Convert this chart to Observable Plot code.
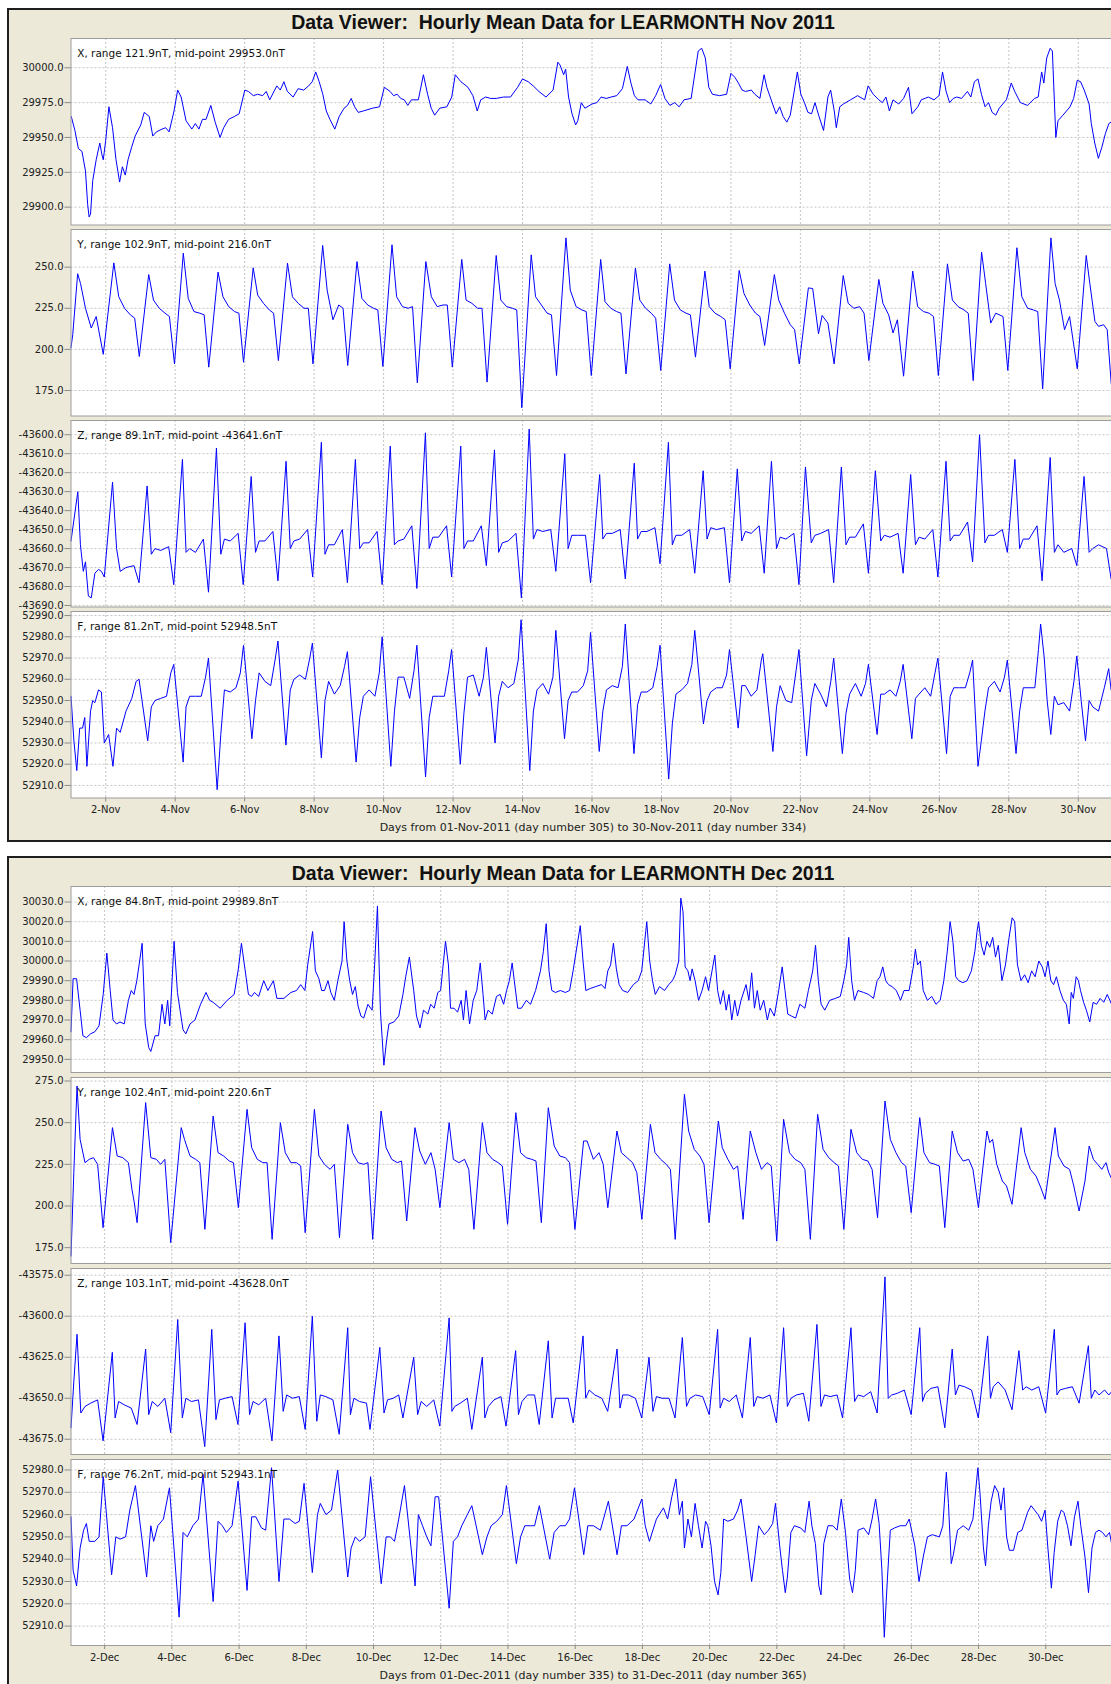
<!DOCTYPE html>
<html><head><meta charset="utf-8">
<script src="https://cdn.jsdelivr.net/npm/d3@7"></script>
<script src="https://cdn.jsdelivr.net/npm/@observablehq/plot@0.6"></script>
<style>
html,body{margin:0;padding:0;background:#fff;}
#page{position:relative;width:1111px;height:1684px;overflow:hidden;background:#fff;font-family:"DejaVu Sans",sans-serif;}
.panel{position:absolute;left:6.5px;width:1130px;background:#ECE9D8;border:2px solid #1e1e1e;box-sizing:border-box;}
.title{position:absolute;left:0;width:1126px;text-align:center;font:bold 19.5px/20px "Liberation Sans",Arial,sans-serif;white-space:pre;color:#111;}
.caption{position:absolute;left:70.5px;width:1045px;text-align:center;font:11px/13px "DejaVu Sans",sans-serif;color:#222;white-space:pre;}
.sub{position:absolute;left:0;}
</style></head>
<body><div id="page"></div>
<script>
// ---------- tick labels ----------
const novDays = ["2-Nov","4-Nov","6-Nov","8-Nov","10-Nov","12-Nov","14-Nov","16-Nov","18-Nov","20-Nov","22-Nov","24-Nov","26-Nov","28-Nov","30-Nov"];
const decDays = ["2-Dec","4-Dec","6-Dec","8-Dec","10-Dec","12-Dec","14-Dec","16-Dec","18-Dec","20-Dec","22-Dec","24-Dec","26-Dec","28-Dec","30-Dec"];
const novXTicks = [29900,29925,29950,29975,30000];
const novYTicks = [175,200,225,250];
const novZTicks = [-43690,-43680,-43670,-43660,-43650,-43640,-43630,-43620,-43610,-43600];
const novFTicks = [52910,52920,52930,52940,52950,52960,52970,52980,52990];
const decXTicks = [29950,29960,29970,29980,29990,30000,30010,30020,30030];
const decYTicks = [175,200,225,250,275];
const decZTicks = [-43675,-43650,-43625,-43600,-43575];
const decFTicks = [52910,52920,52930,52940,52950,52960,52970,52980];
const novLabels = ["X, range 121.9nT, mid-point 29953.0nT","Y, range 102.9nT, mid-point 216.0nT","Z, range 89.1nT, mid-point -43641.6nT","F, range 81.2nT, mid-point 52948.5nT"];
const decLabels = ["X, range 84.8nT, mid-point 29989.8nT","Y, range 102.4nT, mid-point 220.6nT","Z, range 103.1nT, mid-point -43628.0nT","F, range 76.2nT, mid-point 52943.1nT"];

// ---------- series: one list per day, pairs of [hour of day, value nT] ----------
const novX = [
[0.2,29965,2.7,29955,5.1,29942,7.6,29940,10,29926,11.5,29902,12.5,29893,13.5,29895,15,29919,17.4,29934,19.9,29946,21.3,29938,22.3,29934],
[0,29948,2.2,29972,4.7,29957,7.1,29934,9.6,29918,11.5,29929,13.5,29923,15.4,29934,17.9,29943,20.3,29951],
[0.2,29959,2.6,29968,6.1,29965,8.5,29951,11,29954,14.9,29956,17.4,29957,19.8,29954,23.2,29969],
[1.7,29984,4.1,29979,7.5,29962,11.5,29956,13.9,29960,16.4,29956,18.8,29963,21.3,29963],
[0.6,29973,3.6,29961,7,29950,9.5,29957,12.9,29963,16.8,29965,20.2,29967],
[0.1,29984,2.6,29983,6,29980,9,29981,12.4,29980,14.9,29983,17.3,29977,22.2,29987],
[0.6,29984,3.1,29990,5.5,29983,9.5,29979,12.9,29985,16.8,29984,20.2,29987,22.7,29990],
[1.1,29997,3.5,29990,6,29981,8.4,29969,10.9,29963,14.3,29956,17.3,29965,20.7,29971,23.1,29973],
[1.6,29978,4,29972,6.5,29968,9.9,29969,16.3,29971,21.2,29972],
[0.5,29986,4.5,29983,6.9,29980,9.4,29981,11.8,29978,14.3,29977,16.7,29973,19.2,29977],
[0,29977,3.5,29995,6.4,29981,8.9,29971,11.3,29966,14.8,29971,19.7,29972,23.1,29979],
[1.5,29995,5.4,29990,10.3,29986,13.7,29980,16.7,29969,19.1,29977,22.5,29979],
[2,29978,5.9,29978,10.8,29979,15.7,29979,20.6,29986],
[0,29992,3.9,29990,7.4,29987,11.3,29983,16.2,29979,21.1,29984],
[0.4,30004,1.9,30002,4.4,29995,5.8,29999,7.8,29979,10.2,29967,12.7,29959,14.2,29962,16.6,29975,19.1,29971],
[0,29974,3.4,29975,6.3,29979,9.8,29978,13.2,29979,17.1,29980,21,29985],
[0.4,30001,2.9,29989,5.3,29980,7.8,29977,12.7,29977,16.6,29974,20,29980,23.4,29988],
[2.4,29978,5.8,29973,9.2,29975,12.2,29972,15.6,29977,20.5,29978],
[1.4,30012,3.8,30014,6.3,30007,8.7,29986,11.2,29981,16.1,29980,21,29981],
[0,29996,2.8,29993,5.2,29989,7.7,29984,10.1,29983,14.1,29984,16.5,29981,20,29978,22.9,29995],
[0.8,29986,4.8,29974,7.2,29967,9.7,29972,12.1,29965,14.6,29961,17,29966,21.9,29997],
[0.3,29981,2.8,29975,5.2,29968,7.7,29967,10.1,29975,12.6,29966,16,29955,19,29979,20.9,29984,23.4,29969],
[0.8,29957,3.2,29972,5.7,29974,10.6,29977,15.5,29980,20.4,29977,22.8,29987],
[2.3,29981,6.2,29977,8.6,29975,11.1,29979,13.5,29969,16,29977,19.9,29974,23.3,29978],
[2.7,29986,5.1,29967,9.1,29972,11.5,29977,16.4,29979,20.3,29977,23.8,29980],
[2.2,29997,4.7,29983,7.1,29975,9.6,29978,12,29979,15.4,29978,19.4,29983,21.8,29979],
[0.2,29990,2.7,29992,5.1,29981,7.6,29972,10,29975,12.5,29968,15,29966,17.4,29971,22.3,29977],
[1.7,29989,4.1,29983,8,29975,12.9,29973,17.8,29978,20.3,29979,22.7,29997],
[0.2,29989,2.2,30007,4.6,30014,6.1,30012,8.5,29950,10,29962,13.4,29966,15.9,29969,18.3,29972,20.8,29978,23.3,29991],
[1.6,29990,4.1,29984,7.5,29974,9,29960,11.4,29946,13.9,29935,16.3,29943,18.8,29953,21.2,29960,22.7,29961]
];
const novY = [
[0,201,1.2,209,4.6,246,6.6,240,10,225,14,213,17.4,220,22.3,197],
[5.6,252.6,9,232,13,225,17,221,20,219,23.2,195.7],
[5.7,245.5,9,230,13,225,17,222,20,220,23.5,191.2],
[5.6,258.5,9,231,13,223,17,222,20,221,23.2,189.2],
[5.6,247,9,232,13,226,17,223,20,222,23.2,192.2],
[5.9,249.6,9,233,13,228,17,224,20,222,23.3,193.2],
[5.6,252.4,9,232,13,228,17,225,20,225,23.2,191.2],
[5.9,263.2,9,236,13,218,17,227,20,225,23.2,190.2],
[5.6,253.4,9,231,13,227,17,225,20,224,23.5,189.6],
[5.8,263.6,9,232,13,226,17,225,20,226,23.3,179.7],
[5.2,253.4,9,232,13,226,17,227,20,227,23.5,189.2],
[6,254.7,9,230,13,228,17,225,20,225,23.5,180.1],
[5.8,257.1,9,230,13,226,17,225,20,224,23.5,164.5],
[6,257.5,9,232,13,227,17,222,20,221,23.5,184.1],
[6,267.8,9,236,13,226,17,224,20,223,23.5,184.1],
[6,254.7,9,229,13,225,17,223,20,222,23.5,185.1],
[6,249.4,9,230,13,225,17,222,20,219,23.5,187.2],
[5.7,252,9,230,13,224,17,222,20,221,23.5,195.3],
[6,247.6,9,226,13,222,17,220,20,218,23.5,188.2],
[5.7,248,9,234,13,227,17,222,20,220,23.3,202.4],
[6,245.5,9,230,13,222,17,215,20,212,23.2,191.2],
[5.5,237.4,8.5,237,12.5,209.5,15,220.6,19,216,23.3,191.2],
[5.6,244.9,9,228,13,225,17,226,20,222,23.3,193.2],
[6.2,242.5,9,228,13,221,16,210,19,218,23.3,183.7],
[5.6,247.6,9,226,13,223,17,222,20,220,23.3,184.1],
[5.6,252,9,230,13,226,17,224,20,222,23.4,181],
[5.2,259.1,8,240,11.5,216,15,222,20,220,23.3,187.2],
[5.6,261.8,9,232,13,225,17,224,20,223,23.4,176],
[5.1,267.8,8,240,11,230,14.5,212,18,220,23.3,188.2],
[5.5,257.1,8,240,11.5,217,14,214,17.5,215,20,212,22.8,179]
];
const novZ = [
[0,-43656,2,-43645,4.7,-43630,6.5,-43658,8.5,-43672,10,-43667,12,-43685,14,-43686,16.5,-43673,19,-43671,21,-43672,23,-43675],
[4.7,-43625,7.5,-43660,10,-43672,14,-43670,19.5,-43669,23,-43678],
[4.6,-43627,7.5,-43663,10,-43660,14,-43661,19.5,-43659,23,-43679],
[5,-43613,7.5,-43662,10,-43660,14,-43662,19.5,-43655,23,-43683],
[4.5,-43607,7.5,-43663,10,-43655,14,-43656,19.5,-43652,23,-43679],
[4.5,-43622,7.5,-43662,10,-43656,14,-43656,19.5,-43651,23,-43677],
[4.6,-43614,7.5,-43660,10,-43656,14,-43655,19.5,-43650,23,-43675],
[5,-43604,7.5,-43663,10,-43658,14,-43658,19.5,-43650,23,-43678],
[4.5,-43613,7.5,-43660,10,-43657,14,-43657,19.5,-43651,23,-43679],
[4.6,-43606,7.5,-43658,10,-43656,14,-43655,19.5,-43648,23,-43681],
[4.9,-43599,7.5,-43660,10,-43654,14,-43654,19.5,-43648,23,-43675],
[5.3,-43606,7.5,-43660,10,-43656,14,-43656,19.5,-43648,23,-43669],
[4.6,-43608,7.5,-43662,10,-43657,14,-43656,19.5,-43652,23.2,-43686],
[4.6,-43597,7.5,-43655,10,-43650,14,-43651,19.5,-43650,23,-43672],
[5.2,-43610,7.5,-43660,10,-43653,14,-43653,19.5,-43653,23,-43678],
[5.3,-43621,7.5,-43655,10,-43652,14,-43652,19.5,-43650,23,-43676],
[5.2,-43615,7.5,-43655,10,-43651,14,-43651,19.5,-43649,23,-43668],
[4.8,-43604,7.5,-43658,10,-43653,14,-43653,19.5,-43650,23,-43673],
[4.8,-43619,7.5,-43655,10,-43649,14,-43650,19.5,-43649,23,-43678],
[4.4,-43618,7.5,-43656,10,-43651,14,-43652,19.5,-43648,23,-43673],
[4,-43614,7.5,-43660,10,-43654,14,-43655,19.5,-43652,23,-43679],
[3.5,-43617,7.5,-43657,10,-43653,14,-43652,19.5,-43650,23,-43678],
[4.3,-43617,7.5,-43658,10,-43654,14,-43654,19.5,-43647,23,-43673],
[3.8,-43619,7.5,-43656,10,-43653,14,-43654,19.5,-43652,23,-43673],
[4.2,-43621,7.5,-43658,10,-43654,14,-43655,19.5,-43650,23,-43675],
[4.6,-43614,7.5,-43656,10,-43653,14,-43653,19.5,-43646,23,-43667],
[3.8,-43600,7.5,-43657,10,-43653,14,-43653,19.5,-43650,23,-43662],
[4.2,-43613,7.5,-43660,10,-43655,14,-43655,19.5,-43648,23,-43677],
[4.6,-43612,7.5,-43662,10,-43658,14,-43662,19.5,-43660,23,-43669],
[4,-43622,7.5,-43662,10,-43660,14,-43658,19.5,-43660,22.7,-43676]
];
const novF = [
[0,52952,2,52931,4,52917,6,52937,8,52937,9.5,52942,11,52919,13.5,52945,15,52950,16.5,52949,19,52955,21,52954,23,52930],
[2,52934,5,52919,7.5,52937,10,52935,14,52945,18,52951,21,52959,23,52960],
[5,52931,7.5,52947,10,52950,14,52951,18,52952,21,52963,23,52967],
[5.5,52921,7.5,52947,10,52952,14,52952,18,52952,21,52961,23,52970],
[5,52908,7.5,52934,10,52955,14,52954,18,52956,21,52963,23.2,52976],
[5,52932,7.5,52950,10,52963,14,52959,18,52957,21,52969,23,52978],
[4.5,52929,7.5,52955,10,52960,14,52962,18,52960,21,52970,22.8,52977],
[5,52923,7.5,52950,10,52959,14,52953,18,52957,21,52966,23,52973],
[5,52921,7.5,52942,10,52952,14,52955,18,52952,21,52963,23,52980],
[5,52919,7.5,52945,10,52961,14,52961,18,52951,21,52964,23,52976],
[5,52914,7.5,52942,10,52952,14,52952,18,52952,21,52964,23,52974],
[5,52920,7.5,52944,10,52961,14,52962,18,52952,21,52961,23,52975],
[5,52930,7.5,52952,10,52959,14,52956,18,52958,21,52969,23,52988],
[5,52917,7.5,52945,10,52955,14,52958,18,52953,21,52961,23,52983],
[5,52932,7.5,52950,10,52954,14,52954,18,52957,21,52964,23,52982],
[5,52926,7.5,52945,10,52955,14,52957,18,52956,21,52966,23,52986],
[5,52925,7.5,52948,10,52954,14,52954,18,52956,21,52966,23,52976],
[5,52913,7.5,52939,10,52953,14,52955,18,52958,21,52967,23,52983],
[5,52939,7.5,52950,10,52954,14,52956,18,52956,21,52962,23,52974],
[5,52937,7.5,52957,10,52957,14,52952,18,52955,21,52969,22,52972],
[5,52926,7.5,52947,10,52957,14,52950,18,52949,21,52964,23,52974],
[4.3,52924,7.5,52950,10,52958,14,52953,18,52947,21,52959,23,52970],
[5,52925,7.5,52944,10,52953,14,52958,18,52952,21,52958,23,52967],
[5,52934,7.5,52953,10,52953,14,52955,18,52952,21,52959,23,52967],
[5,52932,7.5,52951,10,52953,14,52956,18,52952,21,52963,23,52970],
[5,52925,7.5,52952,10,52956,14,52956,18,52956,21,52963,23,52969],
[2.7,52919,5,52931,7.5,52945,10,52956,14,52959,18,52954,21,52961,23,52969],
[5,52925,7.5,52945,10,52956,14,52956,18,52956,20.5,52974,22,52986],
[0.5,52970,2.5,52950,5,52934,7.5,52952,10,52948,14,52949,18,52945,21,52959,23,52971],
[2,52950,5,52931,7.5,52950,10,52947,14,52945,18,52956,21,52965,22.7,52955]
];
const decX = [
[0,29964,1.5,29991,4,29991,6.5,29975,8.5,29962,11,29961,14,29963,17,29964,20,29967,23,29983],
[1.6,30004,4,29985,6,29970,8.5,29968,11,29969,14,29968,17,29980,19,29985,21,29983,23,29990],
[2.8,30009,5,29968,7.5,29956,9,29954,12,29962,14.5,29962,17,29978,19,29968,21,29980,22.5,29967],
[1.6,30010,4,29984,8,29965,10,29963,13,29968,16.5,29970,20.5,29978],
[0.4,29984,3,29980,5.5,29979,10.5,29976,15.5,29980,20.5,29983,23.5,29996],
[1.7,30009,4.2,29996,6.7,29983,9,29982,11,29984,14,29982,17.6,29990,20.6,29985],
[0.5,29990,3,29981,8,29981,13,29984,17,29985,20,29988,23,29985],
[1,29998,4.5,30015,6.5,29995,9,29991,11,29985,13,29985,15.5,29990,17.5,29984,20,29980,22.5,29990],
[1.5,30000,3,30020,5,30000,7,29990,9,29983,11,29987,13,29977,15,29972,17,29971,20,29978,23,29975],
[0.8,29998,2.8,30028,4.9,29975,7.4,29947,9.4,29960,11,29968,14.5,29969,18,29972,21,29983,23,29992],
[1.6,30002,4.7,29985,6.7,29972,9.2,29966,11.7,29975,14.8,29973,16.8,29978,19.3,29976,21.9,29984,23.9,29985],
[3.4,30010,5.5,29998,7,29976,9.5,29976,12,29974,14.6,29980,16.2,29970,18.1,29985,20.6,29968,23.2,29980],
[1.7,29985,4.2,29999,6.2,29983,7.7,29970,9.8,29975,12.8,29973,15.8,29982,18.4,29983,20.9,29978,23,29985],
[1,29990,3,29999,4.5,29990,7,29976,9.6,29976,13.1,29980,16.1,29978,19.7,29985,23.2,29995],
[1.3,30005,3.3,30019,5.3,29995,7.3,29985,9.9,29984,13.4,29985,17,29984,20,29985,22.5,29995],
[3.6,30018,5.6,30000,7.6,29985,10.7,29986,14.7,29987,18.8,29988,21.3,29986,23.3,29995],
[1.3,29998,3.3,30009,5.4,29996,7.4,29988,9.9,29985,13.5,29984,17.5,29988,21,29990,23.5,29995],
[3.1,30020,5.2,30000,7.2,29990,9.2,29983,12.2,29987,15.8,29985,18.8,29988,21.4,29990,23.4,29993],
[1.9,30000,3.4,30032,5,30025,6.5,29997,8.5,29995,10,29990,11.5,29996,13.6,29990,16.1,29980,18.6,29985,21.1,29992,23.2,29985],
[1.7,29995,3.7,30003,5.7,29985,7.7,29978,9.8,29985,11.8,29975,13.8,29983,15.8,29970,17.9,29980,19.9,29972,22.4,29980],
[2,29988,4,29980,6,29994,8,29976,10,29985,12.1,29975,14.6,29980,17.2,29970,19.2,29976,22.2,29972],
[1.3,29985,3.8,29997,5.8,29985,7.8,29973,10.4,29972,13.4,29971,16.4,29978,20,29976,22.5,29985],
[1.6,29995,3.6,30008,5.6,29990,7.6,29978,10.2,29975,13.7,29980,17.8,29981,21.3,29982,23.8,29990],
[1.8,29998,3.3,30012,5.4,29990,7.4,29980,9.9,29985,14,29984,17.5,29983,21,29981,23.6,29990],
[1.6,29992,3.6,29997,5.7,29990,7.7,29988,10.2,29987,13.3,29985,16.3,29980,18.8,29985,22.4,29985],
[1.4,29997,2.9,30006,4.5,29998,6.5,30000,8.5,29985,11.5,29980,14.6,29982,17.6,29978,20.6,29980,23.2,29990],
[1.7,30005,3.7,30020,5.7,30010,7.7,29992,9.8,29990,12.8,29989,15.8,29990,18.9,29995,21.4,30005,22.9,30015],
[0,30020,2,30008,4,30003,6,30010,8,30007,10.1,30012,12.1,30002,14.1,30008,16.7,29990,19.2,29998,21.8,30012],
[0,30022,1.8,30020,3.8,29998,6.3,29990,8.9,29993,11.4,29989,13.9,29995,16.4,29992,19,30000,21.5,29997,23.5,29992],
[1.6,30000,3.6,29990,5.6,29988,7.6,29992,10.1,29985,12.6,29980,14.7,29978,16.7,29968,18.2,29984,19.7,29981,21.7,29992,23.3,29990],
[0.8,29985,3,29979,5,29975,7.4,29969,9.8,29979,12.3,29978,14.8,29981,17.4,29979,19.9,29983,23,29978]
];
const decY = [
[0,170,2,220,4.3,272,6.5,240,9,230,10,226,13,228,16,229,19,225,22.9,187],
[5.6,247,9,230,13,229,17,226,19.5,210,21,203,23.2,190],
[5.3,262,9,229,13,228,16,225,19,228,23.2,178],
[6.7,247,9,240,13,230,17,228,20,226,23.6,186],
[5.5,254,9,232,13,230,17,227,20,226,23.5,199],
[5.7,258,9,235,13,228,17,226,20,226,23.6,180],
[5.5,250,9,232,13,226,17,226,20,224,23.2,184],
[5.8,258,9,230,13,225,17,222,20,225,23.7,181],
[5.6,249,9,232,13,226,17,225,20,226,23.4,180],
[5.4,257,9,235,13,228,17,226,20,227,23.7,191],
[5.6,247,9,233,13,225,17,232,20,222,23.4,199],
[6,250,9,228,13,226,17,228,20,222,23.7,186],
[5.7,250,9,232,13,228,17,226,20,224,23.7,189],
[5.6,256,9,232,13,229,17,228,20,227,23.8,190],
[4.8,259,9,236,13,230,17,229,20,226,23.8,186],
[6,239,8.5,239,13,228,17,232,20,225,23.3,199],
[5.8,245,9,232,13,229,17,226,20,220,23.6,192],
[5.7,249,9,232,13,228,17,225,20,222,23.4,180],
[6,267,9,245,13,234,17,230,20,225,23.6,190],
[6.2,251,9,235,13,228,17,222,20,224,23.9,192],
[5,245,9,232,13,222,17,226,20,224,23.9,179],
[4.8,252,9,232,13,228,17,226,20,222,23.9,180],
[5.1,255,9,234,13,229,17,226,20,224,23.8,186],
[4.9,246,9,232,13,228,17,227,20,222,23.9,193],
[5.2,263,9,240,13,232,17,226,20,224,23.9,196],
[6,253,9,232,13,226,17,225,20,224,23.9,187],
[5.2,245,9,232,13,227,17,228,20,222,23.9,199],
[6,245,8,238,10,240,13,225,17,215,20,212,23.9,201],
[6.4,247,9,232,13,222,17,218,20,212,23.5,204],
[6.6,247,9,230,13,224,17,222,20,212,23.8,197],
[4,215,7,236,10,228,13,225,16,222,19,226,21,220,23.2,216]
];
const decZ = [
[0,-43668,2,-43640,4.3,-43611,7,-43659,10,-43655,14,-43653,19,-43651,22.9,-43676],
[5.5,-43622,7.5,-43662,10,-43652,14,-43654,19,-43656,23.2,-43666],
[5.3,-43620,7.5,-43660,10,-43652,14,-43655,19,-43650,23.2,-43671],
[4.2,-43602,7.5,-43662,10,-43650,14,-43652,19,-43651,23.5,-43679.5],
[4.5,-43608,7.5,-43663,10,-43651,14,-43650,19,-43649,23.2,-43666],
[4.3,-43604,7.5,-43660,10,-43652,14,-43654,19,-43650,23.5,-43676],
[4.5,-43612,7.5,-43658,10,-43648,14,-43650,19,-43649,23.2,-43669],
[4.3,-43600,7.5,-43664,10,-43648,14,-43649,19,-43651,23.5,-43672],
[5.6,-43607,7.5,-43660,10,-43650,14,-43652,19,-43653,21.5,-43669],
[4.5,-43619,7.5,-43659,10,-43651,14,-43650,18,-43648,21,-43662],
[4.7,-43625,7.5,-43660,10,-43652,14,-43655,19,-43651,23.3,-43667],
[6,-43601,8,-43658,10,-43655,14,-43653,19,-43650,22.2,-43669],
[5.7,-43625,7.5,-43662,10,-43655,14,-43651,19,-43649,22.6,-43667],
[5.5,-43621,7.5,-43660,10,-43652,14,-43648,19,-43648,22.3,-43666],
[4.8,-43615,7.5,-43662,10,-43650,14,-43650,19,-43650,22.6,-43665],
[5.6,-43612,7.5,-43650,10,-43645,14,-43648,19,-43650,23.2,-43658],
[5.9,-43620,8,-43656,10,-43648,14,-43648,19,-43650,23.5,-43662],
[4.7,-43625,7.5,-43658,10,-43649,14,-43650,19,-43650,23.3,-43662],
[4.5,-43613,7.5,-43655,10,-43650,14,-43648,19,-43649,23.7,-43660],
[5.7,-43608,7.5,-43656,10,-43650,14,-43652,19,-43648,23.4,-43662],
[5,-43613,7.5,-43655,10,-43649,14,-43650,19,-43648,23.7,-43665],
[4.8,-43607,7.5,-43655,10,-43650,14,-43648,19,-43647,22.8,-43664],
[4.6,-43605,7.5,-43655,10,-43648,14,-43649,19,-43648,22.9,-43662],
[4.9,-43607,7.5,-43652,10,-43648,14,-43649,19,-43646,23.6,-43659],
[5.2,-43576,7.5,-43650,10,-43648,14,-43647,19,-43645,23.9,-43660],
[6,-43607,8,-43652,10,-43647,14,-43644,19,-43643,23.9,-43668],
[5.2,-43620,7.5,-43648,10,-43642,14,-43643,19,-43645,23.8,-43662],
[6.5,-43612,8.5,-43650,10.5,-43643,14,-43640,19,-43645,23.9,-43657],
[4.8,-43621,7.5,-43645,10,-43643,14,-43645,19,-43643,23.9,-43659],
[6.1,-43608,8,-43648,10,-43645,14,-43644,19,-43643,23.8,-43653],
[6.4,-43618,8.5,-43650,11,-43645,14,-43648,18,-43645,21,-43648,23,-43646]
];
const decF = [
[0,52959,1.5,52935,4,52928,6.5,52945,9,52953,11,52956,13,52948,17,52948,20,52950,23,52977],
[5,52933,8,52950,11,52949,15,52950,18,52962,22,52973],
[6,52932,9,52955,11,52948,14,52955,18,52958,22.3,52972],
[5.2,52914,8,52952,11,52950,15,52955,19,52958,22.3,52978],
[5.5,52921,9,52957,12,52955,15,52952,19,52955,23.3,52975],
[5.7,52926,9,52959,12,52959,16,52954,19,52953,23.2,52981],
[4.5,52930,8,52958,12,52958,16,52956,19,52957,22.4,52974],
[4.3,52934,8,52960,10,52965,14,52960,18,52962,22.4,52980],
[5.6,52932,8,52945,11,52950,14,52948,18,52950,21.9,52977],
[5.5,52929,9,52950,12,52950,15,52948,18,52958,22.1,52973],
[5.7,52928,8,52960,11,52955,14,52950,17,52946,20,52968,22.5,52968],
[6,52918,9,52948,12,52950,15,52955,19,52960,22.2,52964],
[5.7,52942,9,52950,12,52955,16,52957,20,52960,22.9,52973],
[6,52938,9,52950,12,52955,16,52955,19,52955,22.4,52964],
[5.8,52940,9,52952,13,52955,17,52955,20,52958,23.5,52972],
[6.1,52942,9,52955,13,52955,18,52953,23.7,52966],
[5.9,52942,9,52955,13,52955,18,52958,23.6,52967],
[2,52955,5,52948,10,52958,15,52963,18,52958,21,52968,23.9,52976],
[2.4,52960,4.5,52966,6,52945,8.5,52958,11,52950,13.6,52965,16,52955,18.6,52945,21.1,52957,22.7,52955],
[1,52946,3.5,52930,6,52924,8,52934,10,52958,13,52957,17,52958,20,52962,22.4,52967],
[2,52950,6,52930,8.5,52942,11,52955,15,52951,18,52953,21,52956,23,52965],
[2,52946,4,52935,6,52925,7.5,52932,10,52952,12.5,52955,17,52954,20,52952,23,52966],
[1,52955,3.5,52947,6,52928,7.5,52924,9.5,52947,12.5,52955,16,52955,19,52953,22,52967],
[1,52952,4,52931,6,52925,8,52935,10,52953,14,52954,17.5,52951,20,52958,22.5,52967],
[1,52956,3,52935,4.7,52905,7,52932,9,52953,12,52954,16,52955,20,52955,22.5,52958],
[2.5,52946,5.5,52930,8.5,52941,11.5,52950,15,52951,20,52950,22.5,52955],
[1,52979,2.5,52965,4.5,52938,6,52942,9,52953,13,52955,17,52953,20,52958,23.5,52981],
[1,52970,3.5,52945,5,52937,7,52955,9,52966,11.5,52973,14,52970,16,52962,18,52972,20,52950,22,52944],
[1,52944,4,52952,7,52953,11,52961,13.5,52964,16,52962,18.5,52960,21,52957,23.5,52962],
[1.5,52945,4,52927,6,52943,8.5,52957,11,52962,13,52961,15.5,52955,18,52946,20.5,52959,23,52966],
[1,52955,4,52941,6.5,52925,9,52945,11.5,52952,14,52953,16.5,52952,19,52950,21.5,52952,23,52947]
];

// ---------- helpers ----------
function toPoints(days) {
  const out = [];
  days.forEach((arr, d) => { for (let i = 0; i < arr.length; i += 2) out.push({t: d * 24 + arr[i], v: arr[i + 1]}); });
  return out;
}
const page = document.getElementById("page");
function addDiv(cls, top, text, extra) {
  const el = document.createElement("div");
  el.className = cls; el.style.top = top + "px"; if (text != null) el.textContent = text;
  if (extra) Object.assign(el.style, extra);
  page.appendChild(el); return el;
}

const panels = [
  {top: 7.5, height: 834.5, titleTop: 11.6, title: "Data Viewer:  Hourly Mean Data for LEARMONTH Nov 2011",
   plotTop: 38, step: 191, h: 186.5, hours: 720, dayLabels: novDays, captionTop: 820.9,
   caption: "Days from 01-Nov-2011 (day number 305) to 30-Nov-2011 (day number 334)",
   series: [
     {data: novX, ticks: novXTicks, domain: [29887.2, 30021.0], label: novLabels[0]},
     {data: novY, ticks: novYTicks, domain: [159.5, 272.9], label: novLabels[1]},
     {data: novZ, ticks: novZTicks, domain: [-43690.8, -43592.5], label: novLabels[2]},
     {data: novF, ticks: novFTicks, domain: [52904.1, 52991.9], label: novLabels[3]}]},
  {top: 855.5, height: 840, titleTop: 862.6, title: "Data Viewer:  Hourly Mean Data for LEARMONTH Dec 2011",
   plotTop: 885.5, step: 191, h: 186, hours: 744, dayLabels: decDays, captionTop: 1668.6,
   caption: "Days from 01-Dec-2011 (day number 335) to 31-Dec-2011 (day number 365)",
   series: [
     {data: decX, ticks: decXTicks, domain: [29943.3, 30037.9], label: decLabels[0]},
     {data: decY, ticks: decYTicks, domain: [165.5, 277.1], label: decLabels[1]},
     {data: decZ, ticks: decZTicks, domain: [-43684.3, -43570.9], label: decLabels[2]},
     {data: decF, ticks: decFTicks, domain: [52901.3, 52984.7], label: decLabels[3]}]}
];

const gridStyle = {stroke: "#c4c4c4", strokeOpacity: 1, strokeDasharray: "2,2", strokeWidth: 1};

for (const p of panels) {
  addDiv("panel", p.top, null, {height: p.height + "px"});
  addDiv("title", p.titleTop, p.title);
  const xTickVals = p.dayLabels.map(s => (parseInt(s) - 1) * 24);
  const xLabelMap = new Map(xTickVals.map((v, i) => [v, p.dayLabels[i]]));
  p.series.forEach((s, i) => {
    const last = i === p.series.length - 1;
    const mb = last ? 30 : 0;
    const svg = Plot.plot({
      width: 1113, height: p.h + mb,
      marginLeft: 70.5, marginRight: 0.5, marginTop: 0, marginBottom: mb,
      style: {background: "transparent", fontFamily: "DejaVu Sans, sans-serif", fontSize: "10px", overflow: "visible", maxWidth: "none", color: "#222"},
      x: {domain: [0, p.hours], axis: last ? undefined : null},
      y: {domain: s.domain},
      marks: [
        Plot.frame({fill: "white", stroke: "none"}),
        Plot.gridY(s.ticks, gridStyle),
        Plot.gridX(xTickVals, gridStyle),
        Plot.line(toPoints(s.data), {x: "t", y: "v", stroke: "#0000ff", strokeWidth: 1}),
        Plot.frame({stroke: "#9c9c9c", strokeWidth: 1}),
        Plot.axisY(s.ticks, {tickSize: 6, tickPadding: 1.5, tickFormat: d => d.toFixed(1), stroke: "#8a8a8a", fill: "#222", label: null, fontSize: 10}),
        last ? Plot.axisX(xTickVals, {tickSize: 4, tickPadding: 4.2, tickFormat: d => xLabelMap.get(d), stroke: "#8a8a8a", fill: "#222", label: null, fontSize: 10}) : null,
        Plot.text([s.label], {frameAnchor: "top-left", dx: 6.2, dy: 15, lineAnchor: "middle", textAnchor: "start", fontSize: 10.5, fill: "#111"})
      ]
    });
    const holder = addDiv("sub", p.plotTop + i * p.step, null);
    holder.appendChild(svg);
  });
  addDiv("caption", p.captionTop, p.caption);
}
</script>
</body></html>
